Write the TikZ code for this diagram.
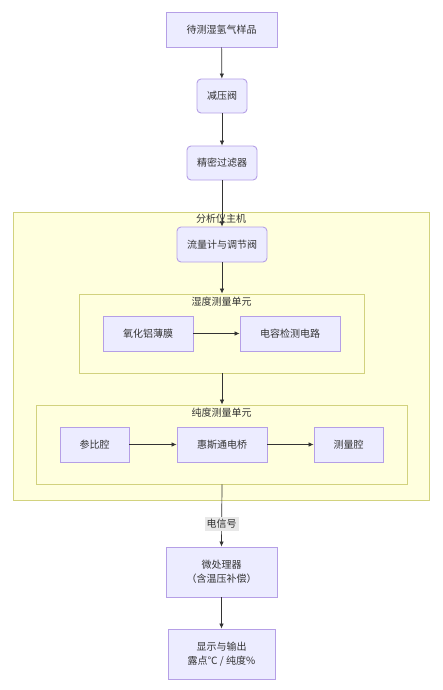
\documentclass[tikz,border=0pt]{standalone}
\usepackage{fontspec}
\setmainfont{Noto Sans CJK SC}
\usetikzlibrary{arrows.meta}
\definecolor{nodefill}{HTML}{ECECFF}
\definecolor{nodeline}{HTML}{B59FE6}
\definecolor{clfill}{HTML}{FFFFDE}
\definecolor{clline}{HTML}{D2D27E}
\definecolor{txt}{HTML}{333333}
\definecolor{lblfill}{HTML}{E8E8E8}
\begin{document}
\begin{tikzpicture}[x=1pt,y=-1pt,
  box/.style={draw=nodeline, fill=nodefill, text=txt, line width=0.9pt, inner sep=0pt,
    font=\fontsize{10}{14}\selectfont, align=center},
  rbox/.style={box, rounded corners=4pt},
  cluster/.style={draw=clline, fill=clfill, line width=0.9pt, inner sep=0pt},
  ctitle/.style={text=txt, font=\fontsize{10}{12}\selectfont, inner sep=0pt},
  edge/.style={draw=txt, line width=0.7pt, -{Latex[length=5pt,width=4.5pt]}},
  lbl/.style={fill=lblfill, text=txt, font=\fontsize{10}{12}\selectfont, inner sep=2pt}
]
\useasboundingbox (0,0) rectangle (443,690);
\fill[white] (0,0) rectangle (443,690);

% clusters
\node[cluster, minimum width=416, minimum height=288] (main) at (221,356) {};
\node[ctitle] (maint) at (221,219) {分析仪主机};
\node[cluster, minimum width=285, minimum height=79] (hum) at (221.5,333.5) {};
\node[ctitle] (humt) at (221.5,302) {湿度测量单元};
\node[cluster, minimum width=371, minimum height=79] (pure) at (221.5,444.5) {};
\node[ctitle] (puret) at (221.5,413) {纯度测量单元};

% nodes
\node[box, minimum width=111, minimum height=35] (n1) at (221.5,29.5) {待测湿氢气样品};
\node[rbox, minimum width=50, minimum height=34] (n2) at (222,96) {减压阀};
\node[rbox, minimum width=70, minimum height=34] (n3) at (222,163) {精密过滤器};
\node[rbox, minimum width=90, minimum height=35] (n4) at (222,244.5) {流量计与调节阀};
\node[box, minimum width=90, minimum height=35] (n5) at (148,333.5) {氧化铝薄膜};
\node[box, minimum width=100, minimum height=35] (n6) at (290,333.5) {电容检测电路};
\node[box, minimum width=69, minimum height=35] (n7) at (94.5,444.5) {参比腔};
\node[box, minimum width=90, minimum height=35] (n8) at (222,444.5) {惠斯通电桥};
\node[box, minimum width=69, minimum height=35] (n9) at (348.5,444.5) {测量腔};
\node[box, minimum width=111, minimum height=50] (n10) at (221.5,572) {微处理器\\（含温压补偿）};
\node[box, minimum width=107, minimum height=50] (n11) at (221.5,654) {显示与输出\\露点℃ / 纯度\%};

% edges
\draw[edge] (n1) -- (n2);
\draw[edge] (n2) -- (n3);
\draw[edge] (n3) -- (n4);
\draw[edge] (n4.south) -- (n4.south |- hum.north);
\draw[edge] (n4.south |- hum.south) -- (n4.south |- pure.north);
\draw[edge] (n4.south |- pure.south) -- (n10.north);
\node[lbl] (sig) at (221.5,524) {电信号};
\draw[edge] (n10) -- (n11);
\draw[edge] (n5) -- (n6);
\draw[edge] (n7) -- (n8);
\draw[edge] (n8) -- (n9);
\end{tikzpicture}
\end{document}
